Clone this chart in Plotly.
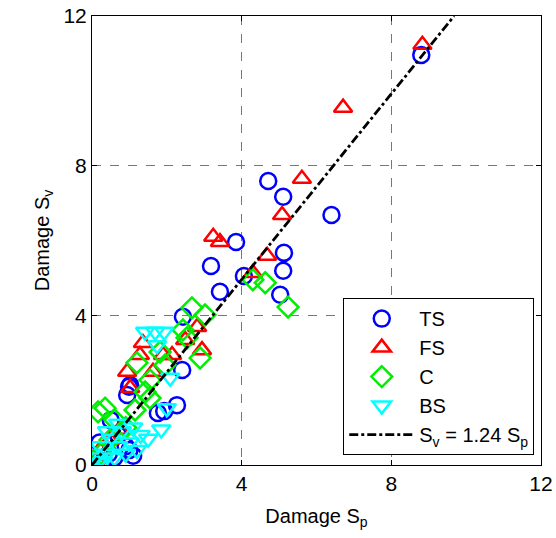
import plotly.graph_objects as go

# ---- data ----
ts_x = [8.80, 4.71, 5.11, 6.40, 3.85, 3.18, 5.13, 5.11, 4.06, 3.42, 5.03, 2.43, 2.41, 2.27, 1.93, 1.76,
        0.99, 0.94, 1.02, 0.45, 0.60, 0.90, 1.00, 0.30, 0.70, 1.10, 0.50, 0.20]
ts_y = [10.96, 7.59, 7.17, 6.68, 5.96, 5.32, 5.67, 5.19, 5.05, 4.63, 4.55, 3.96, 2.54, 1.60, 1.44, 1.39,
        2.09, 1.87, 2.14, 0.30, 0.20, 0.50, 0.40, 0.10, 0.80, 0.25, 1.20, 0.60]

fs_x = [8.83, 6.71, 5.61, 5.08, 3.24, 3.42, 4.68, 4.30, 2.81, 2.94, 2.14, 1.90, 1.36, 1.28, 0.94, 1.63,
        1.02, 0.21, 0.75, 0.48, 2.49, 0.10]
fs_y = [11.23, 9.55, 7.65, 6.68, 6.10, 5.96, 5.59, 5.13, 3.69, 3.07, 2.94, 2.94, 3.26, 2.94, 2.49, 2.49,
        2.06, 0.40, 0.94, 0.67, 3.34, 0.15]

c_x = [4.30, 4.63, 5.24, 2.67, 3.02, 2.43, 2.54, 2.89, 1.20, 1.82, 1.55, 1.42, 1.55, 1.15, 0.35, 0.16,
       0.61, 0.48, 0.08, 1.95, 0.90, 0.25]
c_y = [4.95, 4.87, 4.22, 4.20, 4.01, 3.61, 3.40, 2.86, 2.73, 3.02, 2.27, 1.95, 1.79, 1.47, 1.52, 1.42,
       1.20, 0.67, 0.13, 2.67, 1.00, 0.30]

bs_x = [1.42, 1.69, 1.93, 1.74, 2.09, 2.00, 0.10, 0.20, 0.30, 0.40, 0.50, 0.60, 0.70, 0.80, 0.90, 1.00,
        1.10, 1.20, 1.30, 0.40, 0.70, 1.50, 1.85, 0.15]
bs_y = [3.56, 3.56, 3.56, 3.20, 2.33, 1.52, 0.20, 0.50, 0.10, 0.30, 0.70, 0.20, 0.50, 0.90, 0.30, 0.60,
        1.00, 0.40, 0.80, 0.90, 1.10, 0.70, 0.95, 0.05]

fit_slope = 1.24
fit_x = [0.0, 12.0 / fit_slope]

tick_vals = [0, 4, 8, 12]

fig = go.Figure()

def add_series(x, y, name, symbol, color):
    fig.add_trace(go.Scatter(
        x=x, y=y, mode="markers", name=name,
        marker=dict(symbol=symbol, size=16, color=color,
                    line=dict(color=color, width=2.5)),
    ))

add_series(ts_x, ts_y, "TS", "circle-open", "#0000ff")
add_series(fs_x, fs_y, "FS", "triangle-up-open", "#ff0000")
add_series(c_x, c_y, "C", "diamond-open", "#00ee00")
add_series(bs_x, bs_y, "BS", "triangle-down-open", "#00ffff")

fig.add_trace(go.Scatter(
    x=fit_x, y=[fit_slope * v for v in fit_x], mode="lines",
    name="S<sub>v</sub> = 1.24 S<sub>p</sub>",
    line=dict(color="black", width=2.8, dash="dashdot"),
))

axis_common = dict(
    range=[0, 12], tickvals=tick_vals, ticks="inside", ticklen=5, tickcolor="black",
    showline=True, linecolor="black", linewidth=1, mirror="ticks",
    showgrid=True, gridcolor="#777777", griddash="dash", gridwidth=1,
    zeroline=False, automargin=False,
    tickfont=dict(family="Liberation Sans, Arial", size=21, color="black"),
)

fig.update_layout(
    width=556, height=538,
    margin=dict(l=92, r=15, t=16, b=73),
    paper_bgcolor="white", plot_bgcolor="white",
    font=dict(family="Liberation Sans, Arial", size=20, color="black"),
    xaxis=dict(axis_common, title=dict(text="Damage S<sub>p</sub>", font=dict(size=20), standoff=14)),
    yaxis=dict(axis_common, title=dict(text="Damage S<sub>v</sub>", font=dict(size=20), standoff=8)),
    legend=dict(x=0.985, xanchor="right", y=0.022, yanchor="bottom",
                bgcolor="white", bordercolor="black", borderwidth=1,
                font=dict(size=20), itemwidth=65, tracegroupgap=0),
    showlegend=True,
)

fig.write_html("out.html")
